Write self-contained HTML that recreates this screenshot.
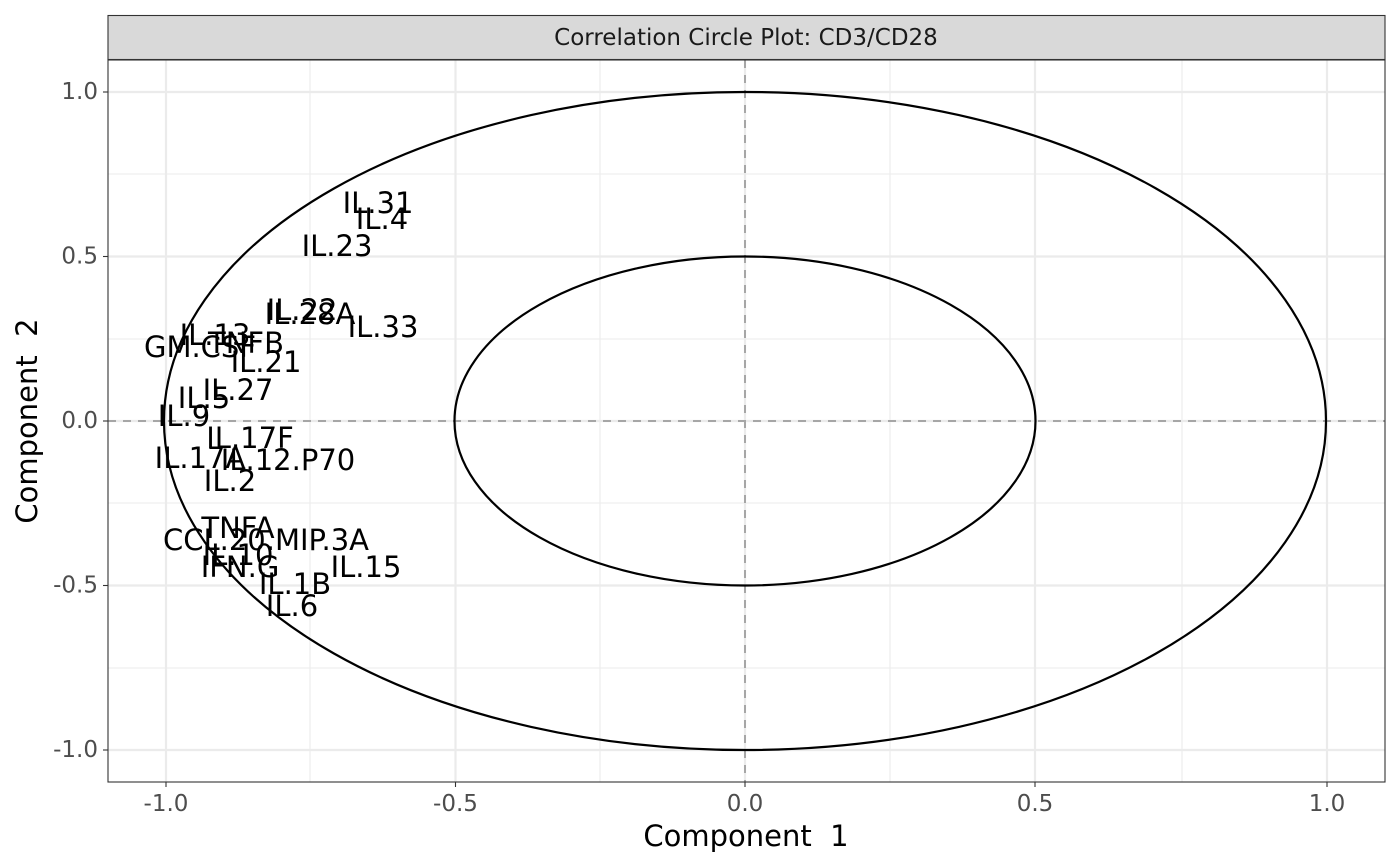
<!DOCTYPE html>
<html><head><meta charset="utf-8"><style>
html,body{margin:0;padding:0;background:#fff;}
svg{display:block;font-family:"DejaVu Sans","Liberation Sans",sans-serif;}
</style></head><body>
<svg width="1400" height="866" viewBox="0 0 1400 866" xmlns="http://www.w3.org/2000/svg">
<rect x="0" y="0" width="1400" height="866" fill="#fff"/>
<g stroke="#ebebeb" stroke-width="1.1">
<line x1="310" y1="60" x2="310" y2="782"/><line x1="600" y1="60" x2="600" y2="782"/>
<line x1="890" y1="60" x2="890" y2="782"/><line x1="1182" y1="60" x2="1182" y2="782"/>
<line x1="108" y1="174" x2="1385" y2="174"/><line x1="108" y1="339" x2="1385" y2="339"/>
<line x1="108" y1="503" x2="1385" y2="503"/><line x1="108" y1="668" x2="1385" y2="668"/>
</g>
<g stroke="#ebebeb" stroke-width="2.2">
<line x1="166" y1="60" x2="166" y2="782"/><line x1="455.5" y1="60" x2="455.5" y2="782"/>
<line x1="745" y1="60" x2="745" y2="782"/><line x1="1035" y1="60" x2="1035" y2="782"/>
<line x1="1327" y1="60" x2="1327" y2="782"/>
<line x1="108" y1="92" x2="1385" y2="92"/><line x1="108" y1="256.5" x2="1385" y2="256.5"/>
<line x1="108" y1="421" x2="1385" y2="421"/><line x1="108" y1="585.5" x2="1385" y2="585.5"/>
<line x1="108" y1="750" x2="1385" y2="750"/>
</g>
<g stroke="#a6a6a6" stroke-width="2" stroke-dasharray="8,7">
<line x1="745" y1="60" x2="745" y2="782"/><line x1="108" y1="421" x2="1385" y2="421"/>
</g>
<ellipse cx="745" cy="421" rx="581" ry="329" fill="none" stroke="#000" stroke-width="2.2"/>
<ellipse cx="745" cy="421" rx="290.5" ry="164.5" fill="none" stroke="#000" stroke-width="2.2"/>
<g font-size="29" text-anchor="middle" dominant-baseline="central" fill="#000">
<text x="378" y="203">IL.31</text><text x="382" y="219">IL.4</text>
<text x="337" y="246">IL.23</text><text x="302" y="310">IL.22</text>
<text x="310" y="314">IL.28A</text><text x="383" y="327">IL.33</text>
<text x="215" y="335">IL.13</text><text x="246" y="343">TNFB</text>
<text x="200" y="347">GM.CSF</text><text x="266" y="362">IL.21</text>
<text x="238" y="390">IL.27</text><text x="204" y="398">IL.5</text>
<text x="184" y="416">IL.9</text><text x="250" y="438">IL.17F</text>
<text x="200" y="458">IL.17A</text><text x="288" y="460">IL.12.P70</text>
<text x="230" y="481">IL.2</text><text x="238" y="528">TNFA</text>
<text x="266" y="540">CCL.20.MIP.3A</text><text x="238" y="555">IL.10</text>
<text x="240" y="567">IFN.G</text><text x="366" y="567">IL.15</text>
<text x="295" y="584">IL.1B</text><text x="292" y="606">IL.6</text>
</g>
<rect x="108" y="60" width="1277" height="722" fill="none" stroke="#333" stroke-width="1.1"/>
<rect x="108" y="15.5" width="1277" height="44" fill="#d9d9d9" stroke="#333" stroke-width="1.1"/>
<text x="746" y="38" font-size="23" text-anchor="middle" dominant-baseline="central" fill="#1a1a1a">Correlation Circle Plot: CD3/CD28</text>
<g stroke="#333" stroke-width="1.1">
<line x1="103" y1="92" x2="108" y2="92"/><line x1="103" y1="256.5" x2="108" y2="256.5"/>
<line x1="103" y1="421" x2="108" y2="421"/><line x1="103" y1="585.5" x2="108" y2="585.5"/>
<line x1="103" y1="750" x2="108" y2="750"/>
<line x1="166" y1="782" x2="166" y2="787"/><line x1="455.5" y1="782" x2="455.5" y2="787"/>
<line x1="745" y1="782" x2="745" y2="787"/><line x1="1035" y1="782" x2="1035" y2="787"/>
<line x1="1327" y1="782" x2="1327" y2="787"/>
</g>
<g font-size="23" fill="#4d4d4d" text-anchor="end" dominant-baseline="central">
<text x="98" y="92">1.0</text><text x="98" y="256.5">0.5</text><text x="98" y="421">0.0</text>
<text x="98" y="585.5">-0.5</text><text x="98" y="750">-1.0</text>
</g>
<g font-size="23" fill="#4d4d4d" text-anchor="middle" dominant-baseline="central">
<text x="166" y="804">-1.0</text><text x="455.5" y="804">-0.5</text><text x="745" y="804">0.0</text>
<text x="1035" y="804">0.5</text><text x="1327" y="804">1.0</text>
</g>
<text x="746" y="836" font-size="29" text-anchor="middle" dominant-baseline="central">Component&#160;&#160;1</text>
<text x="27" y="421" font-size="29" text-anchor="middle" dominant-baseline="central" transform="rotate(-90 27 421)">Component&#160;&#160;2</text>
</svg>
</body></html>
